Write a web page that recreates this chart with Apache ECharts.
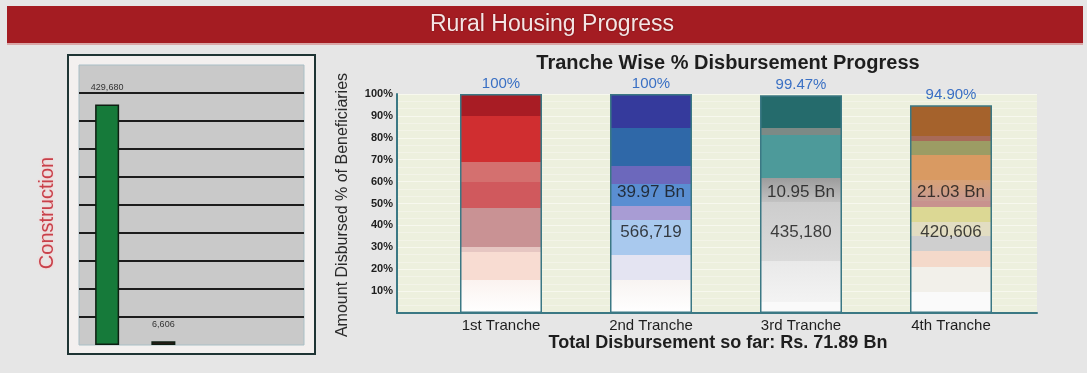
<!DOCTYPE html>
<html>
<head>
<meta charset="utf-8">
<title>Rural Housing Progress</title>
<script src="https://cdn.jsdelivr.net/npm/echarts@6/dist/echarts.min.js"></script>
<style>
  html, body { margin: 0; padding: 0; background: #e6e6e6; }
  #chart { width: 1087px; height: 373px; }
</style>
</head>
<body>
<div id="chart"></div>
<script>
// ---- Data ----
const pageTitle = 'Rural Housing Progress';
const panelLabel = 'Construction';

// Construction status (left panel)
const constructionStages = ['Completed', 'In Progress', '', ''];
const constructionCounts = [429680, 6606, null, null];

// Tranche-wise disbursement (right panel)
const chartTitle = 'Tranche Wise % Disbursement Progress';
const tranches = ['1st Tranche', '2nd Tranche', '3rd Tranche', '4th Tranche'];
const disbursedPercent = [100, 100, 99.47, 94.90];
const amountBn = [null, 39.97, 10.95, 21.03];
const beneficiaries = [null, 566719, 435180, 420606];
const totalDisbursementBn = 71.89;
const yAxisTitle = 'Amount Disbursed % of Beneficiaries';

// ---- Styling helpers ----
const FONT = '"Liberation Sans", Arial, sans-serif';
const TEAL = '#3b7884';

// Colour bands for each tranche column, as fractions from the top of the bar
const bandStyles = [
  [[0, 0.10, '#a81c24'], [0.10, 0.31, '#d02e30'], [0.31, 0.40, '#d4706f'],
   [0.40, 0.52, '#d0595d'], [0.52, 0.70, '#c99294'], [0.70, 0.72, '#e6c6c2'],
   [0.72, 0.85, '#f8dcd2'], [0.85, 1.0, '#fbf3f0', '#ffffff']],
  [[0, 0.155, '#353a9c'], [0.155, 0.33, '#2f68a8'], [0.33, 0.41, '#6c68bc'],
   [0.41, 0.51, '#5a8ed2'], [0.51, 0.575, '#a89cd4'], [0.575, 0.735, '#a9c9ee'],
   [0.735, 0.85, '#e4e4f2'], [0.85, 1.0, '#f8f4f2', '#ffffff']],
  [[0, 0.15, '#256b6c'], [0.15, 0.185, '#7c8a86'], [0.185, 0.38, '#4d9a9a'],
   [0.38, 0.49, '#9c9c9c', '#c2c2c2'], [0.49, 0.76, '#cdcdcd', '#dadada'],
   [0.76, 0.95, '#e9e9e9', '#f3f3f3'], [0.95, 1.0, '#fafafa']],
  [[0, 0.148, '#a5622c'], [0.148, 0.17, '#a86a58'], [0.17, 0.24, '#9c9c64'],
   [0.24, 0.36, '#d99a62'], [0.36, 0.46, '#d8a276', '#c89a92'], [0.46, 0.49, '#c8928e'],
   [0.49, 0.56, '#dcd894'], [0.56, 0.63, '#e2ddc2'], [0.63, 0.70, '#cfcfcf'],
   [0.70, 0.78, '#f4d9ca'], [0.78, 0.90, '#f2f0ea'], [0.90, 1.0, '#fafafa']]
];

function bandGradient(bands) {
  const stops = [];
  bands.forEach(([a, b, c1, c2]) => {
    stops.push({ offset: a, color: c1 });
    stops.push({ offset: b, color: c2 || c1 });
  });
  return new echarts.graphic.LinearGradient(0, 0, 0, 1, stops);
}

function pctText(v) {
  return (v % 1 === 0 ? String(v) : v.toFixed(2)) + '%';
}

const chart = echarts.init(document.getElementById('chart'), null, { renderer: 'canvas' });

const option = {
  backgroundColor: '#e6e6e6',
  animation: false,
  textStyle: { fontFamily: FONT },
  grid: [
    // left: construction counts
    { left: 79, right: 783, top: 65, bottom: 28, show: true,
      backgroundColor: '#c9c9c9', borderColor: '#a9bfc6', borderWidth: 1 },
    // right: plot background and axes
    { left: 397, right: 50, top: 94, bottom: 60, show: true,
      backgroundColor: '#edf0de', borderWidth: 0 },
    // right: tranche columns
    { left: 426, right: 61, top: 94, bottom: 60 }
  ],
  xAxis: [
    { gridIndex: 0, type: 'category', data: constructionStages,
      axisLine: { show: false }, axisTick: { show: false }, axisLabel: { show: false } },
    { gridIndex: 1, type: 'value', min: 0, max: 1,
      axisLine: { show: true, onZero: false, lineStyle: { color: TEAL, width: 2 } },
      axisTick: { show: false }, axisLabel: { show: false }, splitLine: { show: false } },
    { gridIndex: 2, type: 'category', data: tranches,
      axisLine: { show: false }, axisTick: { show: false },
      axisLabel: { color: '#1e1e1e', fontSize: 15, margin: 5, fontFamily: FONT } }
  ],
  yAxis: [
    { gridIndex: 0, type: 'value', min: 0, max: 500000, interval: 50000,
      axisLine: { show: false }, axisTick: { show: false }, axisLabel: { show: false },
      splitLine: { show: true, showMinLine: false, showMaxLine: false,
        lineStyle: { color: '#1c1c1c', width: 2 } } },
    { gridIndex: 1, type: 'value', min: 0, max: 100, interval: 10,
      axisLine: { show: true, lineStyle: { color: TEAL, width: 2 } },
      axisTick: { show: false },
      axisLabel: { color: '#1e1e1e', fontSize: 11, fontWeight: 'bold', margin: 4,
        fontFamily: FONT, formatter: v => (v === 0 ? '' : v + '%') },
      splitLine: { show: true, lineStyle: { color: '#f7f8ee', width: 1 } },
      minorTick: { show: false, splitNumber: 3 },
      minorSplitLine: { show: true, lineStyle: { color: '#f3f4e8', width: 1 } } },
    { gridIndex: 2, type: 'value', min: 0, max: 100, show: false }
  ],
  series: [
    {
      type: 'bar', xAxisIndex: 0, yAxisIndex: 0, barWidth: 24, z: 3,
      data: constructionCounts.map((v, i) => ({
        value: v,
        itemStyle: { color: i === 0 ? '#167a3a' : '#3a1616', borderColor: '#0e1e12', borderWidth: 1.5 }
      })),
      label: { show: true, position: 'top', distance: 12, fontSize: 9, color: '#333',
        formatter: p => (p.value == null ? '' : p.value.toLocaleString('en-US')) }
    },
    {
      type: 'bar', xAxisIndex: 2, yAxisIndex: 2, barWidth: 82, z: 3,
      data: disbursedPercent.map((v, i) => ({
        value: v,
        itemStyle: { color: bandGradient(bandStyles[i]), borderColor: TEAL, borderWidth: 1.5 }
      })),
      label: { show: true, position: 'top', distance: 3, fontSize: 15, color: '#3a70c4',
        fontFamily: FONT, formatter: p => pctText(p.value) }
    },
    {
      // disbursed amount written inside each column
      type: 'scatter', xAxisIndex: 2, yAxisIndex: 2, symbolSize: 0, z: 5, silent: true,
      data: amountBn.map((v, i) => (v == null ? null : [i, 55, v])).filter(Boolean),
      label: { show: true, position: 'inside', fontSize: 17, color: '#141414', fontFamily: FONT,
        formatter: p => p.value[2].toFixed(2) + ' Bn' }
    },
    {
      // beneficiaries count written inside each column
      type: 'scatter', xAxisIndex: 2, yAxisIndex: 2, symbolSize: 0, z: 5, silent: true,
      data: beneficiaries.map((v, i) => (v == null ? null : [i, 37, v])).filter(Boolean),
      label: { show: true, position: 'inside', fontSize: 17, color: '#141414', fontFamily: FONT,
        formatter: p => p.value[2].toLocaleString('en-US') }
    }
  ],
  graphic: [
    // header band
    { type: 'rect', z: -10, shape: { x: 7, y: 6, width: 1076, height: 38 },
      style: { fill: '#a41c22' } },
    { type: 'rect', z: -10, shape: { x: 7, y: 43, width: 1076, height: 2 },
      style: { fill: '#d9a7a7' } },
    { type: 'text', x: 552, y: 25, z: 10,
      style: { text: pageTitle, fill: '#f5e4e4', font: '23px ' + FONT,
        textAlign: 'center', textVerticalAlign: 'middle',
        textShadowColor: 'rgba(60,0,0,0.6)', textShadowBlur: 2 } },
    // left panel frame
    { type: 'rect', z: -10, shape: { x: 68, y: 55, width: 247, height: 299 },
      style: { fill: '#f3f0ef', stroke: '#1e3434', lineWidth: 2 } },
    { type: 'text', x: 47, y: 213, rotation: Math.PI / 2, z: 10,
      style: { text: panelLabel, fill: '#c8404a', font: '20px ' + FONT,
        textAlign: 'center', textVerticalAlign: 'middle',
        textShadowColor: 'rgba(255,190,190,0.9)', textShadowBlur: 3 } },
    // right panel titles
    { type: 'text', x: 728, y: 63, z: 10,
      style: { text: chartTitle, fill: '#1e1e1e', font: 'bold 20px ' + FONT,
        textAlign: 'center', textVerticalAlign: 'middle' } },
    { type: 'text', x: 343, y: 205, rotation: Math.PI / 2, z: 10,
      style: { text: yAxisTitle, fill: '#2a2a2a', font: '16px ' + FONT,
        textAlign: 'center', textVerticalAlign: 'middle' } },
    { type: 'text', x: 718, y: 343, z: 10,
      style: { text: 'Total Disbursement so far: Rs. ' + totalDisbursementBn.toFixed(2) + ' Bn',
        fill: '#1e1e1e', font: 'bold 18px ' + FONT,
        textAlign: 'center', textVerticalAlign: 'middle' } }
  ]
};

chart.setOption(option);
</script>
</body>
</html>
